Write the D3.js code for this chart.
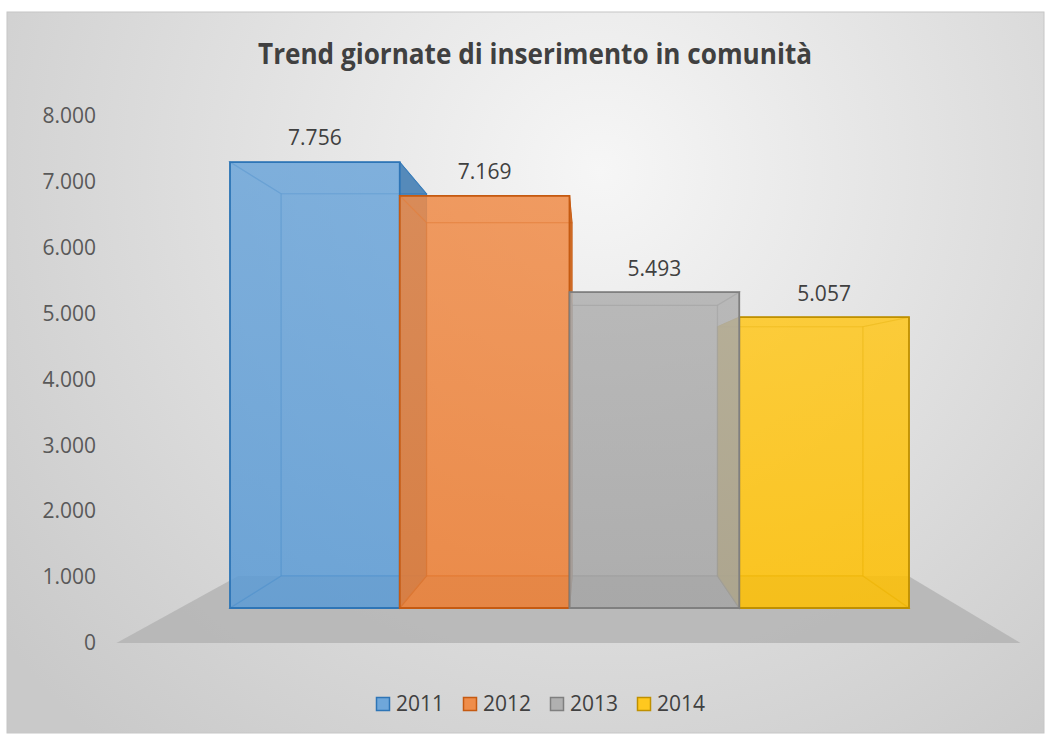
<!DOCTYPE html>
<html>
<head>
<meta charset="utf-8">
<script src="https://cdn.jsdelivr.net/npm/d3@7"></script>
<style>
  html, body { margin: 0; padding: 0; background: #ffffff; }
  svg { display: block; }
</style>
</head>
<body>
<svg id="chart" width="1051" height="735"></svg>
<script>
// ---- data ----
const categories = ["2011", "2012", "2013", "2014"];
const values = [7756, 7169, 5493, 5057];
const yTicks = [0, 1000, 2000, 3000, 4000, 5000, 6000, 7000, 8000];
const title = "Trend giornate di inserimento in comunità";
const baseColors = ["#5b9bd5", "#ed7d31", "#a5a5a5", "#ffc000"];
const edgeColors = ["#2e75b6", "#c55a11", "#7f7f7f", "#bf9000"];

const W = 1051, H = 735;
const svg = d3.select("#chart");
const defs = svg.append("defs");

const locale = d3.formatLocale({ decimal: ",", thousands: ".", grouping: [3], currency: ["", "€"] });
const fmt = locale.format(",d");

// background
const bg = defs.append("radialGradient").attr("id", "bg")
  .attr("gradientUnits", "userSpaceOnUse")
  .attr("cx", 600).attr("cy", 170).attr("r", 760);
bg.append("stop").attr("offset", "0%").attr("stop-color", "#f6f6f6");
bg.append("stop").attr("offset", "100%").attr("stop-color", "#c9c9c9");

svg.append("rect").attr("x", 7).attr("y", 12).attr("width", 1037).attr("height", 721)
  .attr("fill", "url(#bg)").attr("stroke", "#c6c6c6").attr("stroke-width", 1);

// title
svg.append("text")
  .attr("x", 535).attr("y", 64)
  .attr("text-anchor", "middle")
  .attr("font-family", "'Open Sans', sans-serif")
  .attr("font-weight", "bold")
  .attr("font-size", 28)
  .attr("fill", "#404040")
  .attr("textLength", 554).attr("lengthAdjust", "spacingAndGlyphs")
  .text(title);

// scales
const x = d3.scaleBand().domain(categories).range([230, 909]).padding(0);
const y = d3.scaleLinear().domain([0, 8000]).range([608, 148]);
const yAxisScale = d3.scaleLinear().domain([0, 8000]).range([643, 116]);
const color = d3.scaleOrdinal().domain(categories).range(baseColors);
const edge = d3.scaleOrdinal().domain(categories).range(edgeColors);

// perspective projection
const vp = { x: 587, y: 384 };
const kBack = 0.857, kFloor = 1.156;
const proj = (px, py, k) => [vp.x + k * (px - vp.x), vp.y + k * (py - vp.y)];
const line = pts => "M" + pts.map(p => p.join(",")).join("L") + "Z";

// y axis (labels only)
const axisG = svg.append("g").attr("transform", "translate(96,0)")
  .call(d3.axisLeft(yAxisScale).tickValues(yTicks).tickFormat(fmt).tickSize(0).tickPadding(0));
axisG.select(".domain").remove();
axisG.selectAll("text")
  .attr("font-family", "'Open Sans', sans-serif")
  .attr("font-size", 21)
  .attr("fill", "#595959");

// floor
const fx0 = x.range()[0] - 50, fx1 = x.range()[1] + 53, fy = y(0);
svg.append("path")
  .attr("d", line([proj(fx0, fy, kFloor), proj(fx1, fy, kFloor), proj(fx1, fy, kBack), proj(fx0, fy, kBack)]))
  .attr("fill", "#b4b4b4").attr("fill-opacity", 0.85);

// front gradients
categories.forEach((c, i) => {
  const g = defs.append("linearGradient").attr("id", "fg" + i)
    .attr("x1", 0).attr("y1", 0).attr("x2", 0).attr("y2", 1);
  const base = d3.color(color(c));
  g.append("stop").attr("offset", "0%").attr("stop-color", d3.interpolateRgb(base, "#ffffff")(0.14));
  g.append("stop").attr("offset", "100%").attr("stop-color", d3.interpolateRgb(base, "#ffffff")(0.0));
});

// bars in drawing order (outer-left to centre, outer-right to centre)
const order = [0, 1, 3, 2];
const barsG = svg.append("g");
order.forEach(i => {
  const c = categories[i];
  const v = values[i];
  const x0 = x(c), x1 = x0 + x.bandwidth();
  const yt = y(v), yb = y(0);
  const g = barsG.append("g");
  const base = color(c), ed = edge(c);
  const dark = d3.color(base).darker(1.1).formatHex();
  const fTL = [x0, yt], fTR = [x1, yt], fBR = [x1, yb], fBL = [x0, yb];
  const bTL = proj(x0, yt, kBack), bTR = proj(x1, yt, kBack), bBR = proj(x1, yb, kBack), bBL = proj(x0, yb, kBack);
  const leftExternal = x0 > vp.x, rightExternal = x1 < vp.x;
  const inner = [];
  inner.push([bTL, bTR, bBR, bBL]);           // back
  inner.push([fBL, fBR, bBR, bBL]);           // bottom
  inner.push([fTL, fTR, bTR, bTL]);           // top
  if (!leftExternal) inner.push([fTL, bTL, bBL, fBL]);
  if (!rightExternal) inner.push([fTR, bTR, bBR, fBR]);
  const external = [];
  if (leftExternal) external.push([fTL, bTL, bBL, fBL]);
  if (rightExternal) external.push([fTR, bTR, bBR, fBR]);

  external.forEach(p => g.append("path").attr("d", line(p))
    .attr("fill", dark).attr("fill-opacity", 0.9)
    .attr("stroke", ed).attr("stroke-width", 1).attr("stroke-linejoin", "round"));
  inner.forEach(p => g.append("path").attr("d", line(p))
    .attr("fill", base).attr("fill-opacity", 0.55)
    .attr("stroke", ed).attr("stroke-opacity", 0.4).attr("stroke-width", 1.2));
  g.append("path").attr("d", line([fTL, fTR, fBR, fBL]))
    .attr("fill", `url(#fg${i})`).attr("fill-opacity", 0.68)
    .attr("stroke", ed).attr("stroke-width", 1.8);
});

// data labels
svg.append("g").selectAll("text").data(categories).join("text")
  .attr("x", c => x(c) + x.bandwidth() / 2)
  .attr("y", (c, i) => y(values[i]) - 24)
  .attr("dy", "0.35em")
  .attr("text-anchor", "middle")
  .attr("font-family", "'Open Sans', sans-serif")
  .attr("font-size", 21)
  .attr("fill", "#404040")
  .text((c, i) => fmt(values[i]));

// legend
const legend = svg.append("g").attr("transform", "translate(376,697)");
const items = legend.selectAll("g").data(categories).join("g")
  .attr("transform", (c, i) => `translate(${i * 87},0)`);
items.append("rect").attr("x", 0.5).attr("y", 0.5).attr("width", 13).attr("height", 13)
  .attr("fill", c => d3.interpolateRgb(color(c), "#ffffff")(0.12))
  .attr("stroke", c => edge(c)).attr("stroke-width", 1.5);
items.append("text").attr("x", 20).attr("y", 7).attr("dy", "0.35em")
  .attr("font-family", "'Open Sans', sans-serif")
  .attr("font-size", 21)
  .attr("fill", "#404040")
  .text(c => c);
</script>
</body>
</html>
